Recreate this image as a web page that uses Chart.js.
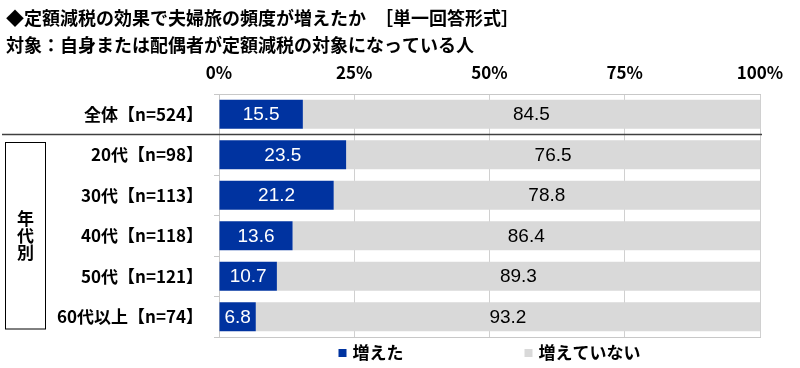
<!DOCTYPE html>
<html>
<head>
<meta charset="utf-8">
<script src="https://cdn.jsdelivr.net/npm/chart.js@4"></script>
<style>
  html, body { margin: 0; padding: 0; background: #fff; }
  canvas { display: block; }
</style>
</head>
<body>
<canvas id="grafico" width="800" height="368"></canvas>
<script>
// dados
const titulo = ['◆定額減税の効果で夫婦旅の頻度が増えたか　［単一回答形式］', '対象：自身または配偶者が定額減税の対象になっている人'];
const categorias = ['全体【n=524】', '20代【n=98】', '30代【n=113】', '40代【n=118】', '50代【n=121】', '60代以上【n=74】'];
const nomesSeries = ['増えた', '増えていない'];
const aumentou = [15.5, 23.5, 21.2, 13.6, 10.7, 6.8];
const naoAumentou = [84.5, 76.5, 78.8, 86.4, 89.3, 93.2];
const ticksX = [0, 25, 50, 75, 100];
const grupoLabel = '年代別';

const AZUL = '#0033a0';
const CINZA = '#d9d9d9';
const FONTE_JP = '"Noto Sans CJK JP", "Noto Sans", sans-serif';
const FONTE_NUM = '"Liberation Sans", Arial, sans-serif';

// rótulos dentro das barras
const rotulosPlugin = {
    id: 'rotulos',
    afterDatasetsDraw(chart) {
        const ctx = chart.ctx;
        ctx.save();
        ctx.font = '19px ' + FONTE_NUM;
        ctx.textAlign = 'center';
        ctx.textBaseline = 'middle';
        chart.data.datasets.forEach((ds, i) => {
            const meta = chart.getDatasetMeta(i);
            ctx.fillStyle = i === 0 ? '#ffffff' : '#000000';
            meta.data.forEach((bar, j) => {
                const cx = (bar.x + bar.base) / 2;
                ctx.fillText(ds.data[j].toFixed(1), cx, bar.y + 1);
            });
        });
        ctx.restore();
    }
};

// título, separador, caixa do grupo e legenda
const extrasPlugin = {
    id: 'extras',
    afterDraw(chart) {
        const ctx = chart.ctx;
        const area = chart.chartArea;
        const y = chart.scales.y;
        ctx.save();

        // título
        ctx.fillStyle = '#000';
        ctx.font = 'bold 18px ' + FONTE_JP;
        ctx.textAlign = 'left';
        ctx.textBaseline = 'middle';
        ctx.fillText(titulo[0], 6, 18);
        ctx.fillText(titulo[1], 6, 45);

        // linha entre 全体 e os grupos
        const ySep = (y.getPixelForValue(0) + y.getPixelForValue(1)) / 2;
        ctx.strokeStyle = '#404040';
        ctx.lineWidth = 1.5;
        ctx.beginPath();
        ctx.moveTo(2, ySep);
        ctx.lineTo(area.right + 2, ySep);
        ctx.stroke();

        // caixa 年代別
        const topo = ySep + 8;
        const base = area.bottom - 8;
        ctx.strokeStyle = '#000';
        ctx.lineWidth = 1;
        ctx.strokeRect(5.5, topo, 40, base - topo);
        ctx.font = 'bold 17px ' + FONTE_JP;
        ctx.textAlign = 'center';
        const meio = (topo + base) / 2;
        const chars = grupoLabel.split('');
        chars.forEach((c, k) => {
            ctx.fillText(c, 25.5, meio + (k - (chars.length - 1) / 2) * 17);
        });

        // legenda
        ctx.font = 'bold 17px ' + FONTE_JP;
        ctx.textAlign = 'left';
        const caixa = 8, gap = 6, espaco = 121;
        const larguras = nomesSeries.map(n => ctx.measureText(n).width);
        const total = larguras.reduce((a, b) => a + b, 0) + nomesSeries.length * (caixa + gap) + espaco * (nomesSeries.length - 1);
        let x = (area.left + area.right) / 2 - total / 2;
        const yLeg = area.bottom + 16;
        chart.data.datasets.forEach((ds, i) => {
            ctx.fillStyle = ds.backgroundColor;
            ctx.fillRect(x, yLeg - caixa / 2, caixa, caixa);
            ctx.fillStyle = '#000';
            ctx.fillText(ds.label, x + caixa + gap, yLeg);
            x += caixa + gap + larguras[i] + espaco;
        });
        ctx.restore();
    }
};

const ctxGrafico = document.getElementById('grafico').getContext('2d');
const grafico = new Chart(ctxGrafico, {
    type: 'bar',
    data: {
        labels: categorias,
        datasets: [{
            label: nomesSeries[0],
            data: aumentou,
            backgroundColor: AZUL,
            categoryPercentage: 1,
            barPercentage: 0.72
        }, {
            label: nomesSeries[1],
            data: naoAumentou,
            backgroundColor: CINZA,
            categoryPercentage: 1,
            barPercentage: 0.72
        }]
    },
    options: {
        indexAxis: 'y',
        responsive: false,
        animation: false,
        devicePixelRatio: 1,
        layout: {
            padding: { top: 60, left: 0, right: 40, bottom: 31 }
        },
        plugins: {
            legend: { display: false },
            title: { display: false },
            tooltip: { enabled: false }
        },
        scales: {
            x: {
                position: 'top',
                stacked: true,
                min: 0,
                max: 100,
                afterBuildTicks: (s) => { s.ticks = ticksX.map(v => ({ value: v })); },
                afterFit: (s) => { s.height = 34; },
                ticks: {
                    color: '#000',
                    padding: 11,
                    font: { family: FONTE_JP, size: 17, weight: 'bold' },
                    callback: (v) => v + '%'
                },
                grid: { color: '#d0d0d0', drawTicks: false },
                border: { color: '#c8c8c8' }
            },
            x2: {
                position: 'bottom',
                min: 0,
                max: 100,
                afterFit: (s) => { s.height = 0; },
                ticks: { display: false },
                grid: { display: false, drawTicks: false },
                border: { display: true, color: '#c8c8c8' }
            },
            y: {
                stacked: true,
                afterFit: (s) => { s.width = 219; },
                ticks: {
                    color: '#000',
                    padding: 11,
                    font: { family: FONTE_JP, size: 17, weight: 'bold' }
                },
                grid: { drawOnChartArea: false, tickLength: 5, color: '#c8c8c8', offset: true },
                border: { color: '#c8c8c8' }
            }
        }
    },
    plugins: [rotulosPlugin, extrasPlugin]
});
</script>
</body>
</html>
